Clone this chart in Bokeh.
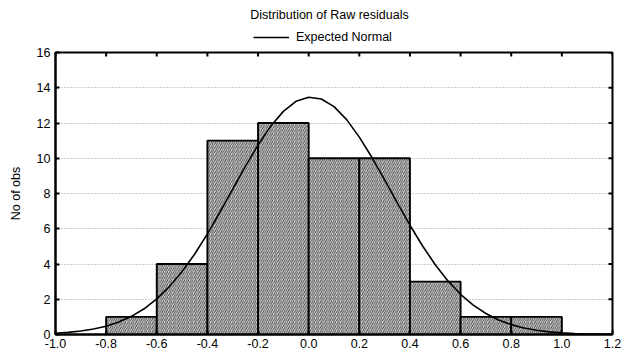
import math
from bokeh.plotting import figure
from bokeh.layouts import column
from bokeh.models import Legend, LegendItem, FixedTicker, Range1d, Label
from bokeh.embed import file_html
from bokeh.resources import INLINE

# Histogram of raw residuals
bin_left = [-0.8, -0.6, -0.4, -0.2, 0.0, 0.2, 0.4, 0.6, 0.8]
bin_right = [-0.6, -0.4, -0.2, 0.0, 0.2, 0.4, 0.6, 0.8, 1.0]
counts = [1, 4, 11, 12, 10, 10, 3, 1, 1]

# Expected normal curve
curve_x = [-1.0, -0.95, -0.9, -0.85, -0.8, -0.75, -0.7, -0.65, -0.6, -0.55,
           -0.5, -0.45, -0.4, -0.35, -0.3, -0.25, -0.2, -0.15, -0.1, -0.05,
           0.0, 0.05, 0.1, 0.15, 0.2, 0.25, 0.3, 0.35, 0.4, 0.45, 0.5, 0.55,
           0.6, 0.65, 0.7, 0.75, 0.8, 0.85, 0.9, 0.95, 1.0, 1.05, 1.1, 1.15, 1.2]
curve_y = [0.07, 0.12, 0.20, 0.31, 0.47, 0.71, 1.03, 1.46, 2.02, 2.72,
           3.57, 4.57, 5.71, 6.95, 8.25, 9.54, 10.75, 11.82, 12.66, 13.23,
           13.46, 13.36, 12.93, 12.19, 11.20, 10.04, 8.77, 7.47, 6.20, 5.02, 3.96, 3.04,
           2.28, 1.67, 1.19, 0.82, 0.56, 0.37, 0.24, 0.15, 0.09, 0.05, 0.03, 0.02, 0.01]

x_ticks = [-1.0, -0.8, -0.6, -0.4, -0.2, 0.0, 0.2, 0.4, 0.6, 0.8, 1.0, 1.2]
y_ticks = [0, 2, 4, 6, 8, 10, 12, 14, 16]
x_min, x_max = -1.0, 1.2
y_min, y_max = 0, 16

title_text = "Distribution of Raw residuals"
legend_text = "Expected Normal"

FONT = "Liberation Sans"
W = 622
HH = 44           # header (title + legend)
H = 313           # main chart
BL, BR, BT, BB = 55, 10, 8, 23

# ---- header with title and legend (its frame is aligned with the chart's) ----
hdr = figure(width=W, height=HH, output_backend="svg", toolbar_location=None,
             x_range=Range1d(x_min, x_max), y_range=Range1d(100, 101),
             x_axis_type=None, y_axis_type=None,
             min_border_left=BL, min_border_right=BR,
             min_border_top=0, min_border_bottom=0)
hdr.outline_line_color = None
hdr.background_fill_color = "white"
hdr.border_fill_color = "white"
hdr.grid.visible = False
hdr.add_layout(Label(x=274, y=HH - 14, x_units="screen", y_units="screen",
                     text=title_text, text_align="center", text_baseline="middle",
                     text_font=FONT, text_font_size="12.5px", text_color="black"))
# the curve lies outside this header's y range; it only feeds the legend glyph
legend_line = hdr.line(curve_x, curve_y, line_color="black", line_width=1.6)
hdr_legend = Legend(items=[LegendItem(label=legend_text, renderers=[legend_line])],
                    orientation="horizontal", location=(198, 0),
                    border_line_color=None, background_fill_alpha=0,
                    label_text_font=FONT, label_text_font_size="12.5px",
                    label_text_color="black",
                    glyph_width=36, glyph_height=14, label_height=14,
                    padding=0, margin=0, label_standoff=7)
hdr.add_layout(hdr_legend)

# ---- main chart ----
p = figure(width=W, height=H, output_backend="svg", toolbar_location=None,
           x_range=Range1d(x_min, x_max), y_range=Range1d(y_min, y_max),
           min_border_left=BL, min_border_right=BR, min_border_top=BT,
           min_border_bottom=BB)
p.background_fill_color = "white"
p.border_fill_color = "white"
p.outline_line_color = "black"
p.outline_line_width = 2

p.quad(left=bin_left, right=bin_right, bottom=0, top=counts,
       fill_color="#dcdcdc", line_color="black", line_width=1.9,
       hatch_pattern="right_diagonal_line", hatch_color="#4c4c4c",
       hatch_scale=4.2, hatch_weight=1.0)

p.line(curve_x, curve_y, line_color="black", line_width=1.6)

# inward ticks on the top and right frame edges
p.ray(x=x_ticks, y=y_max, length=4, length_units="screen", angle=-math.pi / 2,
      line_color="black", line_width=2)
p.ray(x=x_max, y=y_ticks, length=4, length_units="screen", angle=math.pi,
      line_color="black", line_width=2)

for ax in (p.xaxis[0], p.yaxis[0]):
    ax.major_tick_in = 4
    ax.major_tick_out = 0
    ax.minor_tick_line_color = None
    ax.axis_line_color = "black"
    ax.axis_line_width = 2
    ax.major_tick_line_width = 2
    ax.major_label_text_font = FONT
    ax.major_label_text_font_size = "12.5px"
    ax.major_label_text_color = "black"

p.xaxis[0].ticker = FixedTicker(ticks=x_ticks)
p.yaxis[0].ticker = FixedTicker(ticks=y_ticks)
p.xaxis[0].major_label_overrides = {t: f"{t:.1f}" for t in x_ticks}
p.xaxis[0].major_label_standoff = 4
p.yaxis[0].major_label_standoff = 5
p.yaxis[0].axis_label = "No of obs"
p.yaxis[0].axis_label_text_font = FONT
p.yaxis[0].axis_label_text_font_size = "12.5px"
p.yaxis[0].axis_label_text_font_style = "normal"
p.yaxis[0].axis_label_text_color = "black"
p.yaxis[0].axis_label_standoff = 11

p.xgrid.grid_line_color = None
p.ygrid.grid_line_color = "#9a9a9a"
p.ygrid.grid_line_dash = "1 2"
p.ygrid.grid_line_width = 1

layout = column(hdr, p, spacing=0)
open("out.html", "w").write(file_html(layout, INLINE))
